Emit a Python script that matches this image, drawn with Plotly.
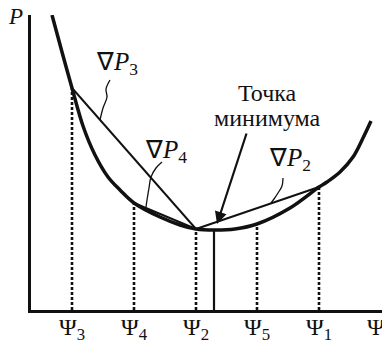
import plotly.graph_objects as go

# Curve P(Ψ), read as sample points along the smooth line
curve_psi = [21, 31, 41, 52, 64, 77, 89, 103, 129, 149, 165, 183, 204, 226,
             259, 288, 296, 309, 322, 332, 340]
curve_p = [295, 258, 222, 184, 155, 133, 120, 107, 93, 85, 81, 80, 81, 86,
           102, 123, 128, 138, 153, 172, 189]

# Trial points on the axis and their P values
psi_names = ["Ψ<sub>3</sub>", "Ψ<sub>4</sub>", "Ψ<sub>2</sub>", "Ψ<sub>5</sub>", "Ψ<sub>1</sub>"]
psi_pos = [41, 103, 165, 226, 288]
psi_p = [222, 107, 81, 86, 123]
axis_name = "Ψ"
axis_label_pos = 345

# Minimum of the curve
psi_min = 183
p_min = 80

# Chords (gradient estimates): pairs of trial-point indices
chords = {"∇<i>P</i><sub>3</sub>": (0, 2),
          "∇<i>P</i><sub>4</sub>": (1, 2),
          "∇<i>P</i><sub>2</sub>": (2, 4)}

# Leader squiggles from chord labels to the chords
leaders = [
    ([79, 75, 76, 72, 69], [230, 221, 213, 202, 190]),
    ([131, 125, 120, 118, 116, 115], [148, 142, 133, 122, 110, 103]),
    ([252, 251, 247, 243, 240], [132, 124, 117, 111, 107]),
]
label_pos = [(86, 247), (135, 159), (259, 151)]

FONT = "Liberation Serif"
BLACK = "#111111"

fig = go.Figure()

# dotted drop lines from trial points
for x, y in zip(psi_pos, psi_p):
    fig.add_trace(go.Scatter(x=[x, x], y=[0, y], mode="lines",
                             line=dict(color=BLACK, width=2.6, dash="3px,2px"),
                             hoverinfo="skip"))

# solid drop line at the minimum
fig.add_trace(go.Scatter(x=[psi_min, psi_min], y=[0, p_min], mode="lines",
                         line=dict(color=BLACK, width=2.2), hoverinfo="skip"))

# chords
for name, (i, j) in chords.items():
    fig.add_trace(go.Scatter(x=[psi_pos[i], psi_pos[j]], y=[psi_p[i], psi_p[j]],
                             mode="lines", line=dict(color=BLACK, width=1.9),
                             hoverinfo="skip"))

# leader squiggles
for lx, ly in leaders:
    fig.add_trace(go.Scatter(x=lx, y=ly, mode="lines",
                             line=dict(color=BLACK, width=1.3, shape="spline"),
                             hoverinfo="skip"))

# the curve
fig.add_trace(go.Scatter(x=curve_psi, y=curve_p, mode="lines",
                         line=dict(color=BLACK, width=3.5, shape="spline", smoothing=1.0),
                         hoverinfo="skip"))

# chord labels
for (name, _), (lx, ly) in zip(chords.items(), label_pos):
    fig.add_annotation(x=lx, y=ly, text=name, showarrow=False,
                       font=dict(family=FONT, size=25, color=BLACK))

# minimum label and arrow
fig.add_annotation(x=236, y=217, text="Точка", showarrow=False,
                   font=dict(family=FONT, size=24, color=BLACK))
fig.add_annotation(x=236, y=192, text="минимума", showarrow=False,
                   font=dict(family=FONT, size=24, color=BLACK))
fig.add_annotation(x=186, y=86, ax=216, ay=178, xref="x", yref="y",
                   axref="x", ayref="y", text="", showarrow=True,
                   arrowhead=2, arrowsize=1.1, arrowwidth=2.2, arrowcolor=BLACK)

# labels of the trial points under the horizontal axis
for x, name in zip(psi_pos + [axis_label_pos], psi_names + [axis_name]):
    fig.add_annotation(x=x, y=0, xref="x", yref="paper", yanchor="top",
                       yshift=-2, text=name, showarrow=False,
                       font=dict(family=FONT, size=24, color=BLACK))

# vertical axis title, placed left of the plotting area
fig.add_annotation(x=-0.07, y=294, xref="paper", yref="y", xanchor="left",
                   text="<i>P</i>", showarrow=False,
                   font=dict(family=FONT, size=23, color=BLACK))

fig.update_layout(
    width=382, height=345,
    margin=dict(l=31, r=0, t=15, b=35, autoexpand=False),
    paper_bgcolor="white", plot_bgcolor="white",
    showlegend=False,
    font=dict(family=FONT, color=BLACK),
    xaxis=dict(range=[0, 351], showgrid=False, zeroline=False,
               showline=True, linecolor=BLACK, linewidth=2.6,
               automargin=False, showticklabels=False, ticks=""),
    yaxis=dict(range=[0, 295], showgrid=False, zeroline=False,
               showline=True, linecolor=BLACK, linewidth=2.6,
               automargin=False, showticklabels=False, ticks=""),
)

fig.write_html("out.html")
